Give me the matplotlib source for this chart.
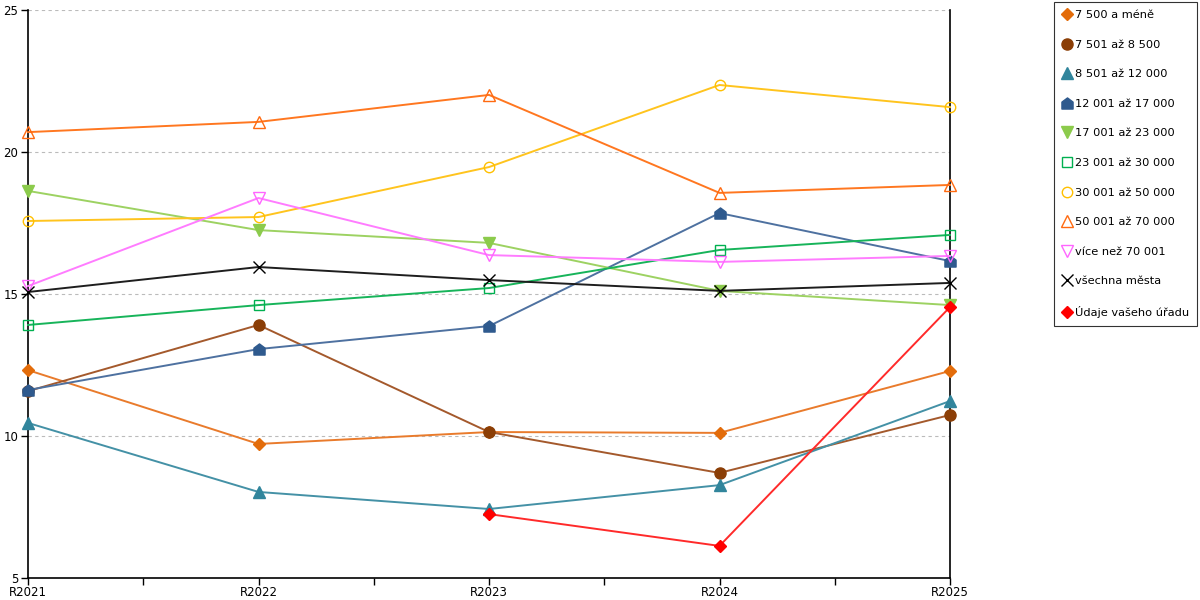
import matplotlib.pyplot as plt
from matplotlib.path import Path

years = ["R2021", "R2022", "R2023", "R2024", "R2025"]

labels = [
    "7 500 a méně",
    "7 501 až 8 500",
    "8 501 až 12 000",
    "12 001 až 17 000",
    "17 001 až 23 000",
    "23 001 až 30 000",
    "30 001 až 50 000",
    "50 001 až 70 000",
    "více než 70 001",
    "všechna města",
    "Údaje vašeho úřadu",
]

s_7500 = [12.32, 9.72, 10.14, 10.11, 12.29]
s_8500 = [11.58, 13.91, 10.14, 8.70, 10.74]
s_12000 = [10.46, 8.03, 7.43, 8.27, 11.23]
s_17000 = [11.62, 13.06, 13.87, 17.85, 16.16]
s_23000 = [18.63, 17.25, 16.80, 15.11, 14.61]
s_30000 = [13.91, 14.61, 15.21, 16.55, 17.08]
s_50000 = [17.57, 17.71, 19.47, 22.36, 21.58]
s_70000 = [20.70, 21.06, 22.01, 18.56, 18.84]
s_over = [15.28, 18.38, 16.37, 16.13, 16.34]
s_all = [15.07, 15.95, 15.49, 15.11, 15.39]
s_office = [None, None, 7.25, 6.13, 14.54]

series = [s_7500, s_8500, s_12000, s_17000, s_23000, s_30000,
          s_50000, s_70000, s_over, s_all, s_office]

# "house" shaped marker
house = Path([(-1, -1), (1, -1), (1, 0.25), (0, 1), (-1, 0.25), (-1, -1)],
             [Path.MOVETO, Path.LINETO, Path.LINETO, Path.LINETO, Path.LINETO, Path.CLOSEPOLY])

# (marker, marker color, line color, filled, markersize)
styles = [
    ("D", "#E36C0A", "#E97B2C", True, 6),
    ("o", "#8B3E06", "#A4592C", True, 8),
    ("^", "#31859C", "#4491A6", True, 8),
    (house, "#2F5A8E", "#4E71A0", True, 8),
    ("v", "#8CCB4C", "#9DD262", True, 8),
    ("s", "#00B050", "#17B45A", False, 7.5),
    ("o", "#FFC000", "#FFC41E", False, 7.5),
    ("^", "#FF6A10", "#FF7720", False, 8.5),
    ("v", "#FF66FF", "#FF7CFF", False, 8.5),
    ("x", "#000000", "#1E1E1E", True, 8.5),
    ("D", "#FF0000", "#FF2A2A", True, 6),
]

fig = plt.figure(figsize=(12, 6), dpi=100)
ax = fig.add_axes([28 / 1200, 1 - 578 / 600, (950 - 28) / 1200, (578 - 10) / 600])

x = list(range(len(years)))
for lab, vals, (m, mc, lc, filled, ms) in zip(labels, series, styles):
    xs = [xi for xi, v in zip(x, vals) if v is not None]
    ys = [v for v in vals if v is not None]
    ax.plot(xs, ys, color=lc, linewidth=1.4, marker=m, markersize=ms,
            markerfacecolor=mc if filled else "none", markeredgecolor=mc,
            markeredgewidth=1.0, label=lab, zorder=3, clip_on=False)

ax.set_xlim(0, 4)
ax.set_ylim(5, 25)
ax.set_yticks([5, 10, 15, 20, 25])
ax.set_xticks(x)
ax.set_xticklabels(years)
ax.set_xticks([0.5, 1.5, 2.5, 3.5], minor=True)
ax.tick_params(axis="both", which="both", direction="out", length=5, width=1,
               labelsize=8.5, pad=1, colors="black")
ax.tick_params(axis="y", pad=2)
ax.yaxis.grid(True, linestyle=(0, (3, 3)), color="#bbbbbb", linewidth=0.8)
ax.set_axisbelow(True)
ax.spines["top"].set_visible(False)
for s in ["left", "right", "bottom"]:
    ax.spines[s].set_linewidth(1.2)
    ax.spines[s].set_color("black")

leg = ax.legend(loc="upper left", bbox_to_anchor=(1054 / 1200, 1 - 2 / 600),
                bbox_transform=fig.transFigure, fontsize=8.2, frameon=True,
                fancybox=False, edgecolor="black", labelspacing=1.72,
                handlelength=0.8, handletextpad=0.35, borderpad=0.7,
                borderaxespad=0)
leg.get_frame().set_linewidth(0.8)
for h in leg.get_lines():
    h.set_linestyle("none")

fig.savefig("out.png", dpi=100)
